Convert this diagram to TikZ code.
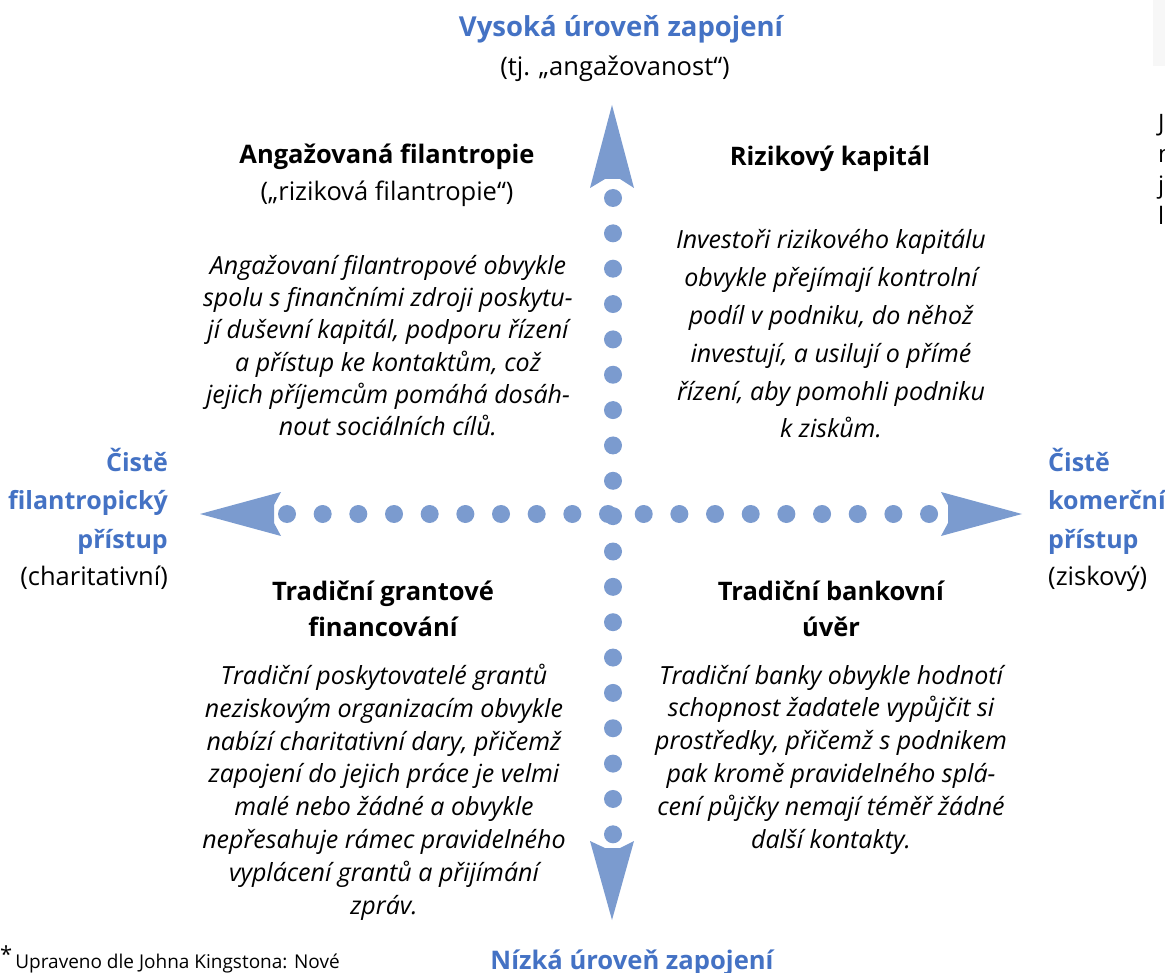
\documentclass[tikz,border=0pt]{standalone}
\usepackage{fontspec}
\setmainfont{Open Sans}
\definecolor{dotblue}{RGB}{123,155,207}
\definecolor{headblue}{RGB}{68,114,196}
\begin{document}
\begin{tikzpicture}[x=1pt,y=-1pt,
  dot/.style={fill=dotblue,draw=none},
  arrowshape/.style={fill=dotblue,draw=none},
  head/.style={font=\bfseries\fontsize{25.5}{36}\selectfont,align=center,inner sep=0pt,anchor=base},
  sub/.style={font=\fontsize{25.5}{36}\selectfont,align=center,inner sep=0pt,anchor=base},
  para/.style={font=\itshape\fontsize{25}{32.8}\selectfont,align=center,inner sep=0pt,anchor=base},
  bluehead/.style={font=\bfseries\fontsize{25}{38.5}\selectfont,text=headblue,inner sep=0pt,anchor=base},
  side/.style={font=\fontsize{25.5}{38}\selectfont,inner sep=0pt,anchor=base}]
\useasboundingbox (0,0) rectangle (1165,973);
\clip (0,0) rectangle (1165,973);
\fill[gray!6] (1153,0) rectangle (1165,66);

% dots
\foreach \i in {0,...,18} {
  \fill[dot] (613,198+35.35*\i) circle (9);
  \fill[dot] (287+35.67*\i,514) circle (9);
}
\coordinate (C) at (610,515);
% arrowheads
\fill[arrowshape] (612,105) -- (634,188) -- (620,179) -- (605,179) -- (590,188) -- cycle;
\fill[arrowshape] (612,920) -- (634,841) -- (620,848) -- (605,848) -- (590,841) -- cycle;
\fill[arrowshape] (200,514) -- (281,492) -- (274,505) -- (274,523) -- (281,536) -- cycle;
\fill[arrowshape] (1022,514) -- (941,492) -- (948,505) -- (948,523) -- (941,536) -- cycle;

% top / bottom titles
\node[bluehead,font=\bfseries\fontsize{27.5}{30}\selectfont] (top) at (621,37) {Vysoká úroveň zapojení};
\node[sub] (topsub) at (615,76) {(tj. „angažovanost“)};
\node[bluehead,font=\bfseries\fontsize{25.6}{30}\selectfont] (bottom) at (632,969) {Nízká úroveň zapojení};

% quadrant headings
\node[head] (q1h) at (387,164) {Angažovaná filantropie};
\node[sub] (q1s) at (387,201) {(„riziková filantropie“)};
\node[head] (q2h) at (830,166) {Rizikový kapitál};
\node[head] (q3h) at (383,636) {Tradiční grantové\\financování};
\node[head] (q4h) at (831,636) {Tradiční bankovní\\úvěr};

% paragraphs (anchor = baseline of last line)
\node[para,font=\itshape\fontsize{25}{32.4}\selectfont] (q1p) at (388,436) {Angažovaní filantropové obvykle\\spolu s finančními zdroji poskytu-\\jí duševní kapitál, podporu řízení\\a přístup ke kontaktům, což\\jejich příjemcům pomáhá dosáh-\\nout sociálních cílů.};
\node[para,font=\itshape\fontsize{25}{37.8}\selectfont] (q2p) at (831,438) {Investoři rizikového kapitálu\\obvykle přejímají kontrolní\\podíl v podniku, do něhož\\investují, a usilují o přímé\\řízení, aby pomohli podniku\\k ziskům.};
\node[para] (q3p) at (384,914) {Tradiční poskytovatelé grantů\\neziskovým organizacím obvykle\\nabízí charitativní dary, přičemž\\zapojení do jejich práce je velmi\\malé nebo žádné a obvykle\\nepřesahuje rámec pravidelného\\vyplácení grantů a přijímání\\zpráv.};
\node[para] (q4p) at (831,848) {Tradiční banky obvykle hodnotí\\schopnost žadatele vypůjčit si\\prostředky, přičemž s podnikem\\pak kromě pravidelného splá-\\cení půjčky nemají téměř žádné\\další kontakty.};

% side labels
\node[bluehead,align=right,anchor=base east] (left) at (168,548) {Čistě\\filantropický\\přístup};
\node[side,anchor=base east] (leftsub) at (168,585) {(charitativní)};
\node[bluehead,align=left,anchor=base west] (right) at (1048,548) {Čistě\\komerční\\přístup};
\node[side,anchor=base west] (rightsub) at (1048,585) {(ziskový)};

% footnote
\node[font=\fontsize{19}{22}\selectfont,inner sep=0pt,anchor=base west] (foot) at (0,968) {\raisebox{6pt}{\fontsize{22}{22}\selectfont *}\hspace{3pt}Upraveno dle Johna Kingstona: Nové};

% cut-off text at right edge
\node[font=\fontsize{24}{31}\selectfont,align=left,inner sep=0pt,anchor=base west] (cut) at (1158,225) {J\\n\\j\\l};
\end{tikzpicture}
\end{document}
